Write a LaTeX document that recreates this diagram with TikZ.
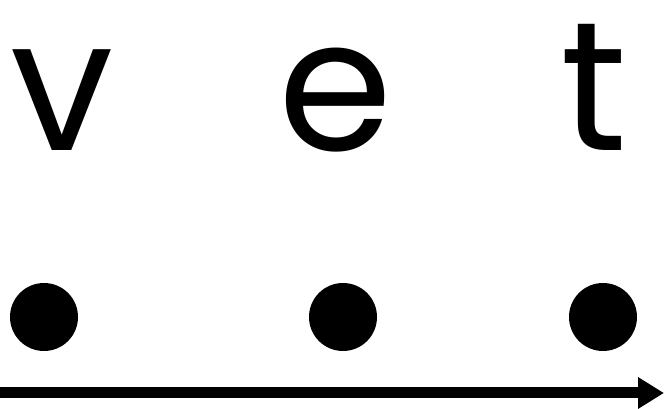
\documentclass[tikz,border=0pt]{standalone}
\usepackage{fontspec}
\setmainfont{Poppins}
\usetikzlibrary{arrows.meta}
\tikzset{
  letter/.style={inner sep=0pt, anchor=base, font=\fontsize{184}{190}\selectfont},
  dot/.style={circle, fill=black, minimum size=68pt, inner sep=0pt},
}
\begin{document}
\begin{tikzpicture}[x=1pt,y=1pt]
\useasboundingbox (0,0) rectangle (664,409);
\node[letter] (v) at (62,258) {v};
\node[letter] (e) at (336,258) {e};
\node[letter] (t) at (594,258) {t};
\node[dot] (d1) at (44,92) {};
\node[dot] (d2) at (343,92) {};
\node[dot] (d3) at (603,92) {};
\coordinate (a0) at (0,16);
\coordinate (a1) at (664,16);
\draw[line width=11pt, -{Triangle[length=26pt,width=30pt]}] (a0) -- (a1);
\end{tikzpicture}
\end{document}
